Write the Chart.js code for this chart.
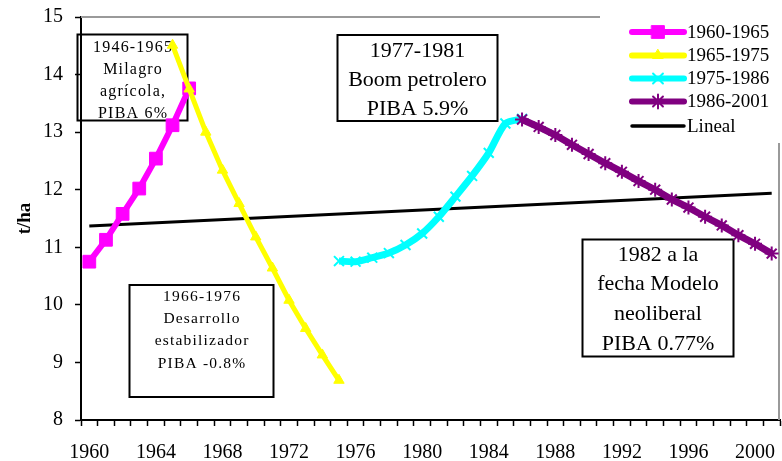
<!DOCTYPE html>
<html>
<head>
<meta charset="utf-8">
<script src="https://cdn.jsdelivr.net/npm/chart.js@4.4.1/dist/chart.umd.min.js"></script>
<style>
html, body { margin: 0; padding: 0; background: #fff; }
</style>
</head>
<body>
<canvas id="myChart" width="782" height="461"></canvas>
<script>
// categories (one per year) and tick labels
const years = ['1960', '1961', '1962', '1963', '1964', '1965', '1966', '1967', '1968', '1969',
    '1970', '1971', '1972', '1973', '1974', '1975', '1976', '1977', '1978', '1979',
    '1980', '1981', '1982', '1983', '1984', '1985', '1986', '1987', '1988', '1989',
    '1990', '1991', '1992', '1993', '1994', '1995', '1996', '1997', '1998', '1999',
    '2000', '2001'];
const yMin = 8;
const yMax = 15;

// series values (t/ha), each starting at its first year
const milagroStart = 1960;
const milagroValues = [10.75, 11.13, 11.58, 12.02, 12.54, 13.12, 13.76];

const estabStart = 1965;
const estabValues = [14.51, 13.75, 13.0, 12.34, 11.76, 11.18, 10.64, 10.08, 9.59, 9.13, 8.69];

const boomStart = 1975;
const boomValues = [10.76, 10.75, 10.82, 10.9, 11.04, 11.24, 11.53, 11.88, 12.24, 12.64, 13.15, 13.23];

const neoStart = 1986;
const neoValues = [13.22, 13.09, 12.95, 12.78, 12.62, 12.46, 12.31, 12.15, 12.0, 11.83,
    11.69, 11.53, 11.38, 11.21, 11.06, 10.89];

const linealYears = ['1960', '2001'];
const linealValues = [11.37, 11.94];

function toPoints(start, values) {
    return values.map((v, i) => ({ x: String(start + i), y: v }));
}

const notes = [
    { x: 77.5, y: 34.5, w: 110, h: 86, first: 48, step: 21.8, size: 16, spacing: 1.2,
      lines: ['1946-1965', 'Milagro', 'agrícola,', 'PIBA 6%'] },
    { x: 129.5, y: 285, w: 144, h: 112, first: 297, step: 22.2, size: 15.5, spacing: 1.2,
      lines: ['1966-1976', 'Desarrollo', 'estabilizador', 'PIBA -0.8%'] },
    { x: 337.5, y: 35, w: 160, h: 86, first: 51, step: 29, size: 22, spacing: 0,
      lines: ['1977-1981', 'Boom petrolero', 'PIBA 5.9%'] },
    { x: 582.5, y: 239.5, w: 151, h: 117, first: 255, step: 29.7, size: 22, spacing: 0,
      lines: ['1982 a la', 'fecha Modelo', 'neoliberal', 'PIBA 0.77%'] }
];

const SERIF = "'Liberation Serif', 'Times New Roman', serif";

const decorations = {
    id: 'decorations',
    beforeDatasetsDraw(chart) {
        const ctx = chart.ctx;
        const a = chart.chartArea;
        ctx.save();
        // plot frame, top and right
        ctx.strokeStyle = '#9a9a9a';
        ctx.lineWidth = 2;
        ctx.beginPath();
        ctx.moveTo(a.left, a.top);
        ctx.lineTo(a.right - 1, a.top);
        ctx.lineTo(a.right - 1, a.bottom);
        ctx.stroke();

        notes.forEach(n => {
            ctx.strokeStyle = '#000';
            ctx.lineWidth = 2;
            ctx.strokeRect(n.x, n.y, n.w, n.h);
            ctx.fillStyle = '#000';
            ctx.font = n.size + 'px ' + SERIF;
            ctx.textAlign = 'center';
            ctx.textBaseline = 'middle';
            ctx.letterSpacing = n.spacing + 'px';
            n.lines.forEach((t, i) => {
                ctx.fillText(t, n.x + n.w / 2 + n.spacing / 2, n.first + i * n.step);
            });
        });
        ctx.restore();
    },
    afterDraw(chart) {
        const ctx = chart.ctx;
        ctx.save();
        ctx.fillStyle = '#fff';
        ctx.fillRect(600, 0, 182, 143);
        const rows = [32, 55.5, 78.5, 101.5, 126];
        chart.data.datasets.forEach((ds, i) => {
            const y = rows[i];
            ctx.strokeStyle = ds.borderColor;
            ctx.lineWidth = ds.legendWidth;
            ctx.lineCap = 'round';
            ctx.beginPath();
            ctx.moveTo(632, y);
            ctx.lineTo(684, y);
            ctx.stroke();
            if (ds.pointRadius > 0) {
                ctx.fillStyle = ds.pointBackgroundColor;
                ctx.strokeStyle = ds.pointBorderColor;
                ctx.lineWidth = ds.pointBorderWidth;
                Chart.helpers.drawPoint(ctx, {
                    pointStyle: ds.pointStyle, rotation: 0,
                    radius: ds.pointRadius, borderWidth: ds.pointBorderWidth
                }, 658, y);
            }
            ctx.fillStyle = '#000';
            ctx.font = '19px ' + SERIF;
            ctx.textAlign = 'left';
            ctx.textBaseline = 'middle';
            ctx.fillText(ds.label, 687, y + 1);
        });
        ctx.restore();
    }
};

const config = {
    type: 'line',
    data: {
        labels: years,
        datasets: [{
            label: '1960-1965',
            data: toPoints(milagroStart, milagroValues),
            borderColor: '#ff00ff',
            borderWidth: 6,
            legendWidth: 6,
            pointStyle: 'rect',
            pointRadius: 9,
            pointBackgroundColor: '#ff00ff',
            pointBorderColor: '#ff00ff',
            pointBorderWidth: 1,
            order: 4
        }, {
            label: '1965-1975',
            data: toPoints(estabStart, estabValues),
            borderColor: '#ffff00',
            borderWidth: 5,
            legendWidth: 6,
            pointStyle: 'triangle',
            pointRadius: 6,
            pointBackgroundColor: '#ffff00',
            pointBorderColor: '#ffff00',
            pointBorderWidth: 1,
            order: 3
        }, {
            label: '1975-1986',
            data: toPoints(boomStart, boomValues),
            borderColor: '#00ffff',
            borderWidth: 7,
            legendWidth: 6,
            tension: 0.25,
            pointStyle: 'crossRot',
            pointRadius: 7,
            pointBackgroundColor: '#00ffff',
            pointBorderColor: '#00ffff',
            pointBorderWidth: 2,
            order: 2
        }, {
            label: '1986-2001',
            data: toPoints(neoStart, neoValues),
            borderColor: '#800080',
            borderWidth: 7,
            legendWidth: 6,
            pointStyle: 'star',
            pointRadius: 7,
            pointBackgroundColor: '#800080',
            pointBorderColor: '#800080',
            pointBorderWidth: 2,
            order: 1
        }, {
            label: 'Lineal',
            data: linealYears.map((x, i) => ({ x: x, y: linealValues[i] })),
            borderColor: '#000',
            borderWidth: 3,
            legendWidth: 3.5,
            pointRadius: 0,
            order: 5
        }]
    },
    options: {
        responsive: false,
        animation: false,
        layout: { autoPadding: false, padding: { top: 17, right: 2, left: 0, bottom: 0 } },
        plugins: {
            legend: { display: false },
            tooltip: { enabled: false }
        },
        scales: {
            x: {
                type: 'category',
                offset: true,
                grid: {
                    offset: true,
                    drawOnChartArea: false,
                    color: '#000',
                    tickLength: 6,
                    tickWidth: 1.5
                },
                border: { color: '#000', width: 2 },
                ticks: {
                    autoSkip: false,
                    maxRotation: 0,
                    color: '#000',
                    padding: 15,
                    font: { family: SERIF, size: 20 },
                    callback: (val, idx) => idx % 4 === 0 ? years[idx] : ''
                },
                afterFit: s => {
                    s.height = 41;
                    s.paddingLeft = 0;
                    s.paddingRight = 0;
                }
            },
            y: {
                min: yMin,
                max: yMax,
                grid: {
                    drawOnChartArea: false,
                    color: '#000',
                    tickLength: 6,
                    tickWidth: 1.5
                },
                border: { color: '#000', width: 2 },
                ticks: {
                    stepSize: 1,
                    color: '#000',
                    padding: 12,
                    font: { family: SERIF, size: 20 }
                },
                title: {
                    display: true,
                    text: 't/ha',
                    color: '#000',
                    padding: { top: 14, bottom: 0 },
                    font: { family: SERIF, size: 19, weight: 'bold' }
                },
                afterFit: s => {
                    s.width = 81;
                    s.paddingTop = 0;
                    s.paddingBottom = 0;
                }
            }
        }
    },
    plugins: [decorations]
};

const ctx = document.getElementById('myChart').getContext('2d');
const myChart = new Chart(ctx, config);
</script>
</body>
</html>
